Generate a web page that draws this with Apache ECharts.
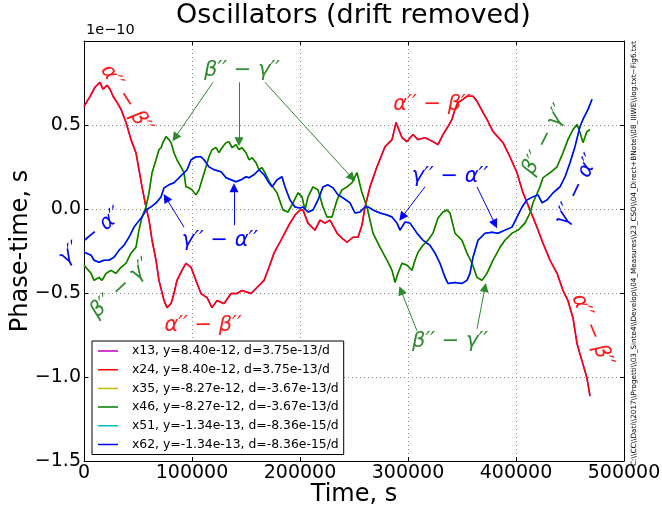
<!DOCTYPE html>
<html><head><meta charset="utf-8">
<script src="https://cdn.jsdelivr.net/npm/echarts@6/dist/echarts.min.js"></script>
<style>html,body{margin:0;padding:0;background:#fff}#c{width:662px;height:514px}</style>
</head><body><div id="c"></div>
<script>
// Time (s) and phase-time (units of 1e-10 s)
const alphaBeta = [[0,0.611],[5600,0.671],[10200,0.725],[14800,0.754],[17600,0.713],[21300,0.737],[24100,0.713],[26900,0.671],[30600,0.635],[34300,0.593],[38900,0.515],[43500,0.413],[48100,0.335],[50900,0.234],[53700,0.132],[57400,0.012],[60200,-0.066],[63000,-0.186],[66700,-0.305],[69400,-0.425],[74100,-0.545],[76900,-0.587],[80600,-0.563],[83300,-0.503],[86100,-0.425],[90700,-0.365],[94400,-0.323],[99100,-0.347],[103700,-0.425],[108300,-0.503],[113900,-0.527],[118500,-0.587],[123100,-0.545],[129600,-0.563],[136100,-0.503],[141700,-0.503],[146300,-0.485],[154600,-0.503],[160200,-0.467],[166700,-0.425],[171300,-0.347],[175900,-0.263],[182400,-0.186],[190700,-0.084],[195400,-0.036],[200000,-0.006],[202800,-0.006],[207400,-0.084],[213900,-0.126],[218500,-0.066],[223100,-0.084],[227800,-0.066],[234300,-0.144],[238900,-0.174],[243500,-0.198],[249100,-0.168],[253700,-0.168],[257400,-0.096],[260200,0.012],[264800,0.132],[271300,0.251],[278700,0.371],[285200,0.413],[288900,0.515],[294400,0.425],[299100,0.401],[304600,0.443],[309300,0.413],[315700,0.425],[323100,0.401],[327800,0.383],[332400,0.443],[337000,0.491],[340700,0.533],[343500,0.593],[346300,0.635],[350900,0.653],[354600,0.671],[357400,0.671],[360200,0.671],[363900,0.641],[369400,0.575],[374100,0.521],[378700,0.461],[388000,0.395],[394400,0.311],[400900,0.216],[406500,0.096],[413000,-0.006],[419400,-0.108],[425000,-0.204],[431500,-0.305],[438000,-0.383],[443500,-0.485],[448100,-0.545],[452800,-0.650],[456500,-0.802],[461100,-0.904],[465700,-1.006],[468500,-1.114]];
const betaGamma = [[0,-0.335],[6500,-0.383],[9300,-0.425],[13900,-0.407],[16700,-0.425],[20400,-0.383],[25000,-0.365],[29600,-0.383],[34300,-0.347],[38900,-0.323],[43500,-0.263],[48100,-0.228],[50900,-0.126],[53700,-0.048],[57400,0.012],[60200,0.096],[63000,0.216],[66700,0.293],[69400,0.353],[71300,0.365],[73100,0.395],[75900,0.431],[78700,0.413],[80600,0.395],[83300,0.335],[86100,0.293],[89800,0.251],[92600,0.216],[94400,0.132],[97200,0.126],[100000,0.114],[103700,0.084],[106500,0.114],[109300,0.174],[113000,0.251],[115700,0.311],[118500,0.353],[122200,0.365],[125000,0.335],[127800,0.365],[131500,0.395],[134300,0.401],[137000,0.365],[140700,0.383],[143500,0.353],[146300,0.365],[150000,0.335],[152800,0.293],[155600,0.305],[159300,0.275],[162000,0.234],[164800,0.246],[168500,0.204],[172200,0.156],[178700,0.096],[184300,-0.006],[188900,-0.018],[193500,0.036],[198100,0.096],[201900,0.072],[204600,-0.006],[207400,0.072],[212000,0.132],[216700,0.114],[221300,0.012],[225000,-0.048],[229600,-0.048],[234300,0.054],[238900,0.114],[243500,0.132],[248100,0.156],[252800,0.216],[257400,0.096],[262000,0.012],[264800,-0.066],[267600,-0.144],[274100,-0.228],[280600,-0.305],[285200,-0.365],[288000,-0.437],[290700,-0.383],[294400,-0.323],[299100,-0.335],[303700,-0.365],[306500,-0.305],[309300,-0.257],[313900,-0.216],[318500,-0.186],[323100,-0.144],[327800,-0.054],[332400,-0.018],[336100,-0.006],[338900,-0.024],[343500,-0.144],[350000,-0.186],[354600,-0.263],[359300,-0.323],[363900,-0.407],[368500,-0.425],[373100,-0.383],[378700,-0.305],[385200,-0.228],[389800,-0.186],[396300,-0.144],[401900,-0.126],[408300,-0.084],[413000,-0.024],[415700,0.036],[422200,0.132],[425000,0.186],[431500,0.216],[438000,0.251],[443500,0.335],[448100,0.413],[452800,0.473],[456500,0.503],[459300,0.455],[462000,0.395],[465700,0.461],[468500,0.473]];
const gammaAlpha = [[0,-0.257],[6500,-0.275],[9300,-0.305],[13900,-0.317],[18500,-0.305],[23100,-0.305],[27800,-0.287],[32400,-0.246],[37000,-0.216],[41700,-0.168],[46300,-0.108],[49100,-0.084],[53700,-0.048],[57400,-0.006],[62000,0.012],[66700,0.036],[71300,0.072],[74100,0.126],[78700,0.144],[83300,0.156],[88000,0.186],[92600,0.216],[95400,0.234],[99100,0.293],[103700,0.311],[108300,0.311],[111100,0.293],[115700,0.251],[120400,0.234],[126900,0.222],[131500,0.186],[136100,0.174],[140700,0.162],[145400,0.174],[150000,0.192],[152800,0.186],[157400,0.204],[162000,0.234],[166700,0.204],[171300,0.156],[174100,0.132],[178700,0.174],[183300,0.192],[186100,0.132],[190700,0.054],[195400,0.012],[200000,0.006],[202800,0.012],[207400,-0.018],[212000,-0.006],[216700,0.054],[221300,0.132],[225900,0.144],[230600,0.126],[235200,0.084],[239800,0.066],[246300,0.036],[250900,-0.024],[255600,-0.018],[260200,0.012],[263000,0.012],[267600,-0.006],[274100,-0.024],[280600,-0.036],[285200,-0.048],[289800,-0.084],[292600,-0.126],[297200,-0.078],[301900,-0.084],[308300,-0.144],[313900,-0.186],[320400,-0.216],[325000,-0.263],[329600,-0.323],[334300,-0.407],[337000,-0.443],[343500,-0.437],[350000,-0.443],[354600,-0.425],[357400,-0.383],[360200,-0.287],[364800,-0.186],[371300,-0.144],[377800,-0.138],[383300,-0.144],[389800,-0.126],[396300,-0.108],[400900,-0.048],[405600,0.012],[410200,0.054],[415700,0.072],[420400,0.084],[424100,0.036],[428700,0.054],[434300,0.096],[440700,0.132],[445400,0.192],[450000,0.275],[454600,0.371],[459300,0.491],[462000,0.533],[466700,0.593],[470400,0.653]];

const legendNames = ['x13, y=8.40e-12, d=3.75e-13/d','x24, y=8.40e-12, d=3.75e-13/d','x35, y=-8.27e-12, d=-3.67e-13/d','x46, y=-8.27e-12, d=-3.67e-13/d','x51, y=-1.34e-13, d=-8.36e-15/d','x62, y=-1.34e-13, d=-8.36e-15/d'];
const seriesColors = ['#bf00bf','#ff0000','#bfbf00','#008000','#00bfbf','#0000ff'];
const seriesData = [alphaBeta, alphaBeta, betaGamma, betaGamma, gammaAlpha, gammaAlpha];
const xTicks = [0,100000,200000,300000,400000,500000];
const yTicks = [-1.5,-1.0,-0.5,0.0,0.5];

// annotation texts and anchors (time, value, rotation deg)
const labAB = 'α′′ − β′′', labBG = 'β′′ − γ′′', labGA = 'γ′′ − α′′';
const redLabels = [[38900,0.653,-57],[110200,-0.695,0],[322200,0.623,0],[470400,-0.725,-67]];
const greenLabels = [[146300,0.826,0],[34300,-0.473,43],[338900,-0.790,0],[426900,0.413,63]];
const blueLabels = [[6500,-0.162,40],[125900,-0.186,0],[338900,0.192,0],[456500,0.114,65]];
const greenArrows = [[[119400,0.754],[84300,0.425]],[[143500,0.754],[143500,0.401]],[[167600,0.754],[248100,0.186]],[[308300,-0.725],[293500,-0.485]],[[363900,-0.713],[371300,-0.467]]];
const blueArrows = [[[92600,-0.108],[75900,0.066]],[[138900,-0.096],[138900,0.126]],[[315700,0.132],[294400,-0.048]],[[363900,0.132],[380600,-0.090]]];

const FONT = 'DejaVu Sans';
const annRed = '#ff1a1a', annGreen = '#2f8a2f', annBlue = '#0000ff';

function markPts(list, text, color) {
  return {
    symbol: 'circle', symbolSize: 1, itemStyle: {color: 'rgba(0,0,0,0)'}, silent: true,
    label: {show: true, position: 'inside', color: color, fontSize: 21, fontStyle: 'italic', fontFamily: FONT, fontWeight: 200},
    data: list.map(p => ({coord: [p[0], p[1]], label: {formatter: text, rotate: p[2]}}))
  };
}
function markArrows(list, color) {
  return {
    silent: true, symbol: ['none', 'triangle'], symbolSize: 9, animation: false,
    label: {show: false}, lineStyle: {color: color, width: 1, type: 'solid', opacity: 1},
    itemStyle: {color: color},
    emphasis: {disabled: true},
    data: list.map(a => [{coord: a[0]}, {coord: a[1]}])
  };
}

const series = seriesData.map((d, i) => {
  const s = {
    name: legendNames[i], type: 'line', data: d, symbol: 'none', showSymbol: false,
    lineStyle: {color: seriesColors[i], width: 1.5}, itemStyle: {color: seriesColors[i]},
    xAxisIndex: 0, yAxisIndex: 0, z: 2 + i, animation: false, clip: false
  };
  if (i === 1) { s.markPoint = markPts(redLabels, labAB, annRed); }
  if (i === 3) { s.markPoint = markPts(greenLabels, labBG, annGreen); s.markLine = markArrows(greenArrows, annGreen); }
  if (i === 5) { s.markPoint = markPts(blueLabels, labGA, annBlue); s.markLine = markArrows(blueArrows, annBlue); }
  return s;
});

const pathText = String.raw`C:\\CC\\Dati\\2017\\Progetti\\03_Sinte4\\Develop\\04_Measures\\23_CSO\\04_Direct+BNote\\08_IIIWE\\log.txt~Fig6.txt`;
const cv = document.createElement('canvas').getContext('2d');
cv.font = '10px ' + FONT;
const pathFont = Math.min(9, 10 * 425 / cv.measureText(pathText).width);

const splitDot = {show: true, lineStyle: {color: '#8a8a8a', width: 1, type: [1, 3]}};
const tickIn = {show: true, inside: true, length: 4, lineStyle: {color: '#000', width: 1}};
const blackLine = {show: true, onZero: false, lineStyle: {color: '#000', width: 1}};
const lineIcon = 'path://M0,0L0.01,0L0.01,0.01ZM0,6.25L20,6.25L20,7.75L0,7.75ZM0,14L0.01,14L0.01,13.99Z';

const option = {
  animation: false,
  backgroundColor: '#fff',
  grid: {left: 84, right: 38, top: 41, bottom: 53, containLabel: false, outerBoundsMode: 'none'},
  xAxis: [
    {type: 'value', min: 0, max: 500000, interval: 100000, position: 'bottom',
     axisLine: blackLine, axisTick: tickIn, splitLine: splitDot,
     axisLabel: {fontSize: 19, color: '#000', fontFamily: FONT, margin: 3, formatter: v => String(v)},
     name: 'Time, s', nameLocation: 'middle', nameGap: 22, nameMoveOverlap: false,
     nameTextStyle: {fontSize: 24, color: '#000', fontFamily: FONT, verticalAlign: 'top'}},
    {type: 'value', min: 0, max: 500000, interval: 100000, position: 'top',
     axisLine: blackLine, axisTick: tickIn, splitLine: {show: false}, axisLabel: {show: false}}
  ],
  yAxis: [
    {type: 'value', min: -1.5, max: 1.0, interval: 0.5, position: 'left',
     axisLine: blackLine, axisTick: tickIn, splitLine: splitDot,
     axisLabel: {fontSize: 19, color: '#000', fontFamily: FONT, margin: 3,
       formatter: v => (Math.abs(v - 1) < 1e-9 ? '' : v.toFixed(1).replace('-', '\u2212'))},
     name: 'Phase-time, s', nameLocation: 'middle', nameGap: 51, nameMoveOverlap: false,
     nameTextStyle: {fontSize: 24, color: '#000', fontFamily: FONT}},
    {type: 'value', min: -1.5, max: 1.0, interval: 0.5, position: 'right',
     axisLine: blackLine, axisTick: tickIn, splitLine: {show: false}, axisLabel: {show: false}}
  ],
  legend: {
    data: legendNames.map(n => ({name: n, icon: lineIcon})), orient: 'vertical', left: 92, top: 341,
    padding: [3, 5, 3, 6], itemGap: 4.7, itemWidth: 20, itemHeight: 14,
    backgroundColor: '#fff', borderColor: '#000', borderWidth: 1, borderRadius: 0,
    textStyle: {fontSize: 12.4, color: '#000', fontFamily: FONT, padding: [0, 0, 0, 9]},
    selectedMode: false, z: 10
  },
  graphic: [
    {type: 'text', left: 354 - 178, top: 2, style: {text: 'Oscillators (drift removed)', fontSize: 27, fontFamily: FONT, fill: '#000'}},
    {type: 'text', x: 86, y: 38, style: {text: '1e\u221210', fontSize: 14.5, fontFamily: FONT, fill: '#000', textVerticalAlign: 'bottom'}},
    {type: 'text', x: 634, y: 466, rotation: Math.PI / 2,
     style: {text: pathText, fontSize: pathFont, fontFamily: FONT, fill: '#000', textAlign: 'left', textVerticalAlign: 'middle'}}
  ],
  series: series
};

const chart = echarts.init(document.getElementById('c'), null, {renderer: 'canvas'});
chart.setOption(option);
</script></body></html>
